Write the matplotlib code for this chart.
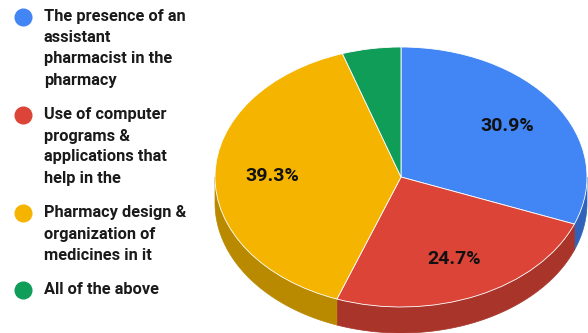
import numpy as np
import matplotlib.pyplot as plt
from matplotlib.patches import Polygon
from matplotlib.lines import Line2D

plt.rcParams["font.family"] = ["Roboto", "DejaVu Sans"]

legend_lines = [
    ["The presence of an", "assistant", "pharmacist in the", "pharmacy"],
    ["Use of computer", "programs &", "applications that", "help in the"],
    ["Pharmacy design &", "organization of", "medicines in it"],
    ["All of the above"],
]
shares = [30.9, 24.7, 39.3, 5.1]
colors = ["#4285f4", "#db4437", "#f4b400", "#0f9d58"]
side_colors = ["#2f62b8", "#a8342a", "#b98a00", "#0b7442"]

W, H = 588, 333
depth = 0.2  # thickness of the 3d pie, in units of the vertical radius

fig = plt.figure(figsize=(W / 100, H / 100), dpi=100)
# axes sized so a unit circle shows up as a 186 x 130 px ellipse
ax = fig.add_axes([205.7 / W, 0, 390.6 / W, 292.5 / H])

# side walls (front half only)
start = 90
for share, c in zip(shares, side_colors):
    end = start - share * 3.6
    lo, hi = max(end, -180), min(start, 0)
    if lo < hi:
        t = np.radians(np.linspace(lo, hi, 80))
        x, y = np.cos(t), np.sin(t)
        pts = np.column_stack([np.r_[x, x[::-1]], np.r_[y, y[::-1] - depth]])
        ax.add_patch(Polygon(pts, closed=True, fc=c, ec=c, lw=0.5, zorder=1))
    start = end


def fmt(p):
    return f"{p:.1f}%" if p > 6 else ""


wedges, _, autotexts = ax.pie(
    shares,
    colors=colors,
    startangle=90,
    counterclock=False,
    autopct=fmt,
    pctdistance=0.69,
    wedgeprops=dict(edgecolor="white", linewidth=0.6),
    textprops=dict(fontsize=14, fontweight="bold", color="#111111"),
)
for w in wedges:
    w.set_zorder(2)
for t in autotexts:
    t.set_zorder(3)

ax.set_aspect("auto")
ax.set_xlim(-1.05, 1.05)
ax.set_ylim(-1.2, 1.05)
ax.axis("off")

# legend
y = 17
for lines, c in zip(legend_lines, colors):
    fig.add_artist(Line2D([23 / W], [1 - y / H], marker="o", markersize=12,
                          color=c, transform=fig.transFigure))
    for i, line in enumerate(lines):
        fig.text(44 / W, 1 - (y + 21 * i) / H, line, fontsize=11.8,
                 fontweight="bold", color="#1a1a1a", va="center", ha="left")
    y += 21 * len(lines) + 14

fig.savefig("out.png", dpi=100)
